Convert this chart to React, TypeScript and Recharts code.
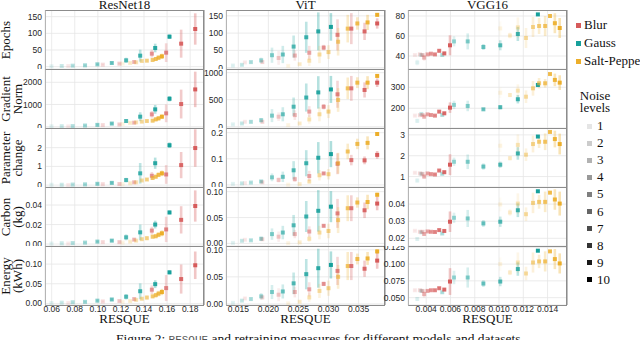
import React from "react";
import {
  ScatterChart,
  Scatter,
  XAxis,
  YAxis,
  CartesianGrid,
  ErrorBar,
} from "recharts";

const NOISE_NAMES = ["Blur", "Gauss", "Salt-Pepper"];
const NOISE_COLORS = ["#d65b5b", "#17a09b", "#ecae2a"];
const NOISE_LEVELS = [1, 2, 3, 4, 5, 6, 7, 8, 9, 10];
const MODEL_NAMES = ["ResNet18", "ViT", "VGG16"];
const METRIC_LABELS = [
  ["Epochs"],
  ["Gradient", "Norm"],
  ["Parameter", "change"],
  ["Carbon", "(kg)"],
  ["Energy", "(kWh)"],
];

// noise: 0 Blur, 1 Gauss, 2 Salt-Pepper
const RESNET_RESQUE = [0.0598, 0.0687, 0.0744, 0.0782, 0.0889, 0.0996, 0.1043, 0.1121, 0.1187, 0.1215, 0.1245, 0.128, 0.1315, 0.1332, 0.1367, 0.1381, 0.1425, 0.1468, 0.1475, 0.1497, 0.1502, 0.1526, 0.1555, 0.1592, 0.1621, 0.1722, 0.1844];
const RESNET_NOISE = [1, 1, 0, 1, 1, 1, 0, 1, 0, 2, 1, 2, 0, 2, 1, 2, 2, 0, 2, 1, 2, 2, 2, 0, 1, 0, 0];
const RESNET_LEVEL = [1, 2, 1, 3, 4, 5, 2, 6, 3, 1, 7, 2, 4, 3, 8, 4, 5, 6, 6, 9, 7, 8, 10, 7, 10, 9, 10];
const RESNET_EPOCHS = [1, 2, 2, 3, 4, 7, 6, 11, 9, 9, 19, 11, 14, 13, 33, 17, 18, 39, 20, 56, 23, 27, 31, 42, 90, 69, 113];
const RESNET_EPOCHS_ERR = [1, 1, 1, 2, 2, 2, 2, 3, 2, 2, 8, 3, 4, 3, 18, 4, 5, 12, 5, 13, 6, 7, 8, 28, 7, 42, 47];
const RESNET_GRAD = [15, 20, 12, 25, 50, 80, 70, 140, 100, 120, 255, 170, 180, 195, 450, 225, 255, 555, 270, 780, 330, 375, 450, 600, 1260, 1020, 1680];
const RESNET_GRAD_ERR = [10, 10, 8, 15, 20, 25, 20, 40, 30, 30, 80, 40, 50, 50, 200, 60, 70, 150, 80, 200, 90, 100, 100, 400, 120, 650, 800];
const RESNET_PARAM = [0.02, 0.02, 0.01, 0.03, 0.04, 0.07, 0.05, 0.12, 0.06, 0.05, 0.27, 0.1, 0.15, 0.15, 0.63, 0.25, 0.3, 0.5, 0.38, 1.17, 0.45, 0.55, 0.63, 0.57, 2.13, 1.07, 1.98];
const RESNET_PARAM_ERR = [0.01, 0.01, 0.01, 0.02, 0.02, 0.03, 0.02, 0.04, 0.03, 0.02, 0.12, 0.04, 0.05, 0.05, 0.55, 0.06, 0.08, 0.2, 0.1, 0.3, 0.1, 0.12, 0.15, 0.5, 0.15, 0.7, 1.0];
const RESNET_CARBON = [0.0005, 0.0008, 0.0005, 0.001, 0.0015, 0.0025, 0.002, 0.0035, 0.002, 0.0015, 0.0069, 0.0025, 0.0045, 0.0035, 0.012, 0.005, 0.006, 0.0138, 0.0075, 0.02, 0.008, 0.0095, 0.011, 0.015, 0.0324, 0.0248, 0.039];
const RESNET_CARBON_ERR = [0.0003, 0.0003, 0.0003, 0.0005, 0.0005, 0.0008, 0.0006, 0.001, 0.0008, 0.0006, 0.003, 0.001, 0.0015, 0.001, 0.008, 0.0015, 0.002, 0.004, 0.002, 0.004, 0.002, 0.0025, 0.003, 0.013, 0.002, 0.014, 0.016];
const RESNET_ENERGY = [0.001, 0.002, 0.001, 0.003, 0.004, 0.007, 0.005, 0.01, 0.006, 0.004, 0.017, 0.006, 0.011, 0.009, 0.031, 0.012, 0.015, 0.035, 0.018, 0.049, 0.021, 0.025, 0.029, 0.039, 0.079, 0.062, 0.097];
const RESNET_ENERGY_ERR = [0.001, 0.001, 0.001, 0.001, 0.002, 0.002, 0.002, 0.003, 0.002, 0.002, 0.007, 0.002, 0.004, 0.003, 0.02, 0.004, 0.005, 0.011, 0.005, 0.01, 0.006, 0.007, 0.008, 0.033, 0.005, 0.037, 0.035];

const VIT_RESQUE = [0.0141, 0.0156, 0.0161, 0.0171, 0.0188, 0.019, 0.0206, 0.0217, 0.0224, 0.0233, 0.0242, 0.0244, 0.0252, 0.0263, 0.0268, 0.0268, 0.0283, 0.0285, 0.0292, 0.03, 0.0304, 0.0315, 0.0316, 0.0332, 0.0338, 0.0348, 0.036, 0.0365, 0.0381, 0.0381];
const VIT_NOISE = [1, 1, 0, 1, 1, 0, 1, 0, 1, 2, 1, 0, 2, 1, 0, 2, 1, 2, 0, 2, 1, 0, 2, 2, 0, 2, 0, 2, 2, 0];
const VIT_LEVEL = [1, 2, 1, 3, 4, 2, 5, 3, 6, 1, 7, 4, 2, 8, 5, 3, 9, 4, 6, 5, 10, 7, 6, 7, 8, 8, 9, 9, 10, 10];
const VIT_EPOCHS = [6, 8, 15, 16, 21, 16, 36, 28, 38, 5, 61, 35, 10, 88, 43, 20, 105, 38, 58, 45, 118, 95, 75, 113, 113, 128, 105, 131, 153, 128];
const VIT_EPOCHS_ERR = [3, 3, 3, 4, 8, 5, 22, 20, 25, 2, 32, 15, 3, 45, 20, 15, 55, 25, 8, 20, 40, 45, 40, 40, 45, 18, 25, 22, 5, 15];
const VIT_GRAD = [43, 60, 90, 90, 120, 90, 205, 185, 230, 30, 370, 215, 60, 540, 280, 135, 635, 230, 370, 280, 690, 600, 495, 710, 710, 815, 680, 815, 940, 815];
const VIT_GRAD_ERR = [15, 20, 25, 30, 40, 30, 120, 80, 130, 10, 170, 90, 20, 260, 100, 80, 300, 130, 50, 120, 250, 250, 220, 200, 230, 100, 140, 120, 30, 80];
const VIT_PARAM = [0.004, 0.006, 0.007, 0.009, 0.013, 0.01, 0.029, 0.019, 0.031, 0.001, 0.056, 0.022, 0.003, 0.083, 0.034, 0.013, 0.104, 0.037, 0.044, 0.041, 0.118, 0.081, 0.083, 0.128, 0.095, 0.157, 0.094, 0.161, 0.195, 0.115];
const VIT_PARAM_ERR = [0.002, 0.003, 0.003, 0.003, 0.005, 0.004, 0.015, 0.01, 0.02, 0.001, 0.035, 0.01, 0.002, 0.05, 0.02, 0.008, 0.06, 0.02, 0.005, 0.02, 0.05, 0.04, 0.04, 0.03, 0.02, 0.02, 0.015, 0.025, 0.005, 0.015];
const VIT_CARBON = [0.001, 0.005, 0.007, 0.006, 0.009, 0.008, 0.018, 0.013, 0.021, 0.0005, 0.035, 0.018, 0.002, 0.052, 0.023, 0.009, 0.063, 0.021, 0.034, 0.024, 0.071, 0.058, 0.045, 0.068, 0.068, 0.079, 0.064, 0.08, 0.094, 0.077];
const VIT_CARBON_ERR = [0.001, 0.002, 0.002, 0.002, 0.004, 0.003, 0.011, 0.01, 0.013, 0.001, 0.02, 0.008, 0.001, 0.03, 0.01, 0.006, 0.04, 0.013, 0.003, 0.014, 0.03, 0.028, 0.025, 0.025, 0.025, 0.01, 0.015, 0.014, 0.004, 0.013];
const VIT_ENERGY = [0.002, 0.006, 0.01, 0.009, 0.014, 0.012, 0.022, 0.017, 0.023, 0.001, 0.038, 0.022, 0.004, 0.055, 0.027, 0.012, 0.066, 0.024, 0.037, 0.029, 0.072, 0.061, 0.05, 0.07, 0.07, 0.083, 0.065, 0.084, 0.097, 0.08];
const VIT_ENERGY_ERR = [0.001, 0.002, 0.003, 0.003, 0.006, 0.004, 0.013, 0.012, 0.013, 0.001, 0.02, 0.01, 0.002, 0.028, 0.013, 0.008, 0.036, 0.013, 0.004, 0.014, 0.025, 0.026, 0.022, 0.026, 0.026, 0.01, 0.015, 0.012, 0.004, 0.015];

const VGG_RESQUE = [0.00307, 0.00326, 0.00348, 0.0036, 0.0037, 0.00383, 0.00411, 0.00439, 0.00472, 0.00507, 0.00532, 0.00549, 0.00596, 0.00629, 0.00742, 0.00871, 0.0101, 0.0101, 0.0109, 0.01155, 0.01155, 0.01222, 0.0128, 0.0132, 0.0133, 0.0138, 0.0142, 0.0146, 0.015];
const VGG_NOISE = [0, 1, 0, 1, 0, 0, 0, 0, 0, 0, 1, 0, 0, 1, 1, 1, 1, 2, 2, 1, 2, 2, 2, 1, 2, 2, 2, 2, 2];
const VGG_LEVEL = [1, 1, 2, 2, 3, 4, 5, 6, 7, 8, 3, 9, 10, 4, 5, 6, 7, 1, 2, 8, 3, 4, 5, 10, 6, 7, 8, 9, 10];
const VGG_EPOCHS = [41, 33.5, 41.6, 41, 41, 38.4, 41.6, 42.3, 41.6, 45.2, 41, 42.6, 50.7, 54.6, 54.6, 49, 50.7, 67.6, 60.5, 62, 68.6, 58, 69, 81.6, 70, 70, 80, 72.8, 68];
const VGG_EPOCHS_ERR = [1, 3, 1, 1, 1, 3, 1, 1, 1, 1.5, 1.5, 1.5, 10, 5, 8, 3, 5, 7, 3, 7, 10, 10, 10, 1, 8, 10, 2, 10, 10];
const VGG_GRAD = [165, 140, 167, 173, 168, 160, 171, 168, 165, 184, 168, 176, 203, 216, 211, 195, 205, 274, 263, 243, 284, 255, 295, 311, 319, 319, 363, 335, 322];
const VGG_GRAD_ERR = [5, 10, 5, 6, 5, 10, 5, 4, 4, 6, 6, 6, 25, 20, 25, 5, 10, 25, 10, 20, 30, 30, 35, 5, 25, 20, 5, 30, 35];
const VGG_PARAM = [1.18, 0.81, 1.15, 1.13, 1.13, 1.0, 1.15, 1.12, 1.1, 1.29, 1.13, 1.21, 1.57, 1.71, 1.71, 1.48, 1.57, 2.48, 1.88, 2.11, 2.52, 2.05, 2.56, 2.92, 2.67, 2.67, 3.14, 2.8, 2.56];
const VGG_PARAM_ERR = [0.05, 0.1, 0.05, 0.05, 0.05, 0.1, 0.05, 0.04, 0.04, 0.05, 0.05, 0.05, 0.5, 0.2, 0.35, 0.15, 0.15, 0.3, 0.1, 0.3, 0.5, 0.3, 0.4, 0.05, 0.3, 0.4, 0.05, 0.4, 0.5];
const VGG_CARBON = [0.0244, 0.0196, 0.0238, 0.0235, 0.0238, 0.0225, 0.024, 0.0238, 0.0237, 0.0248, 0.0228, 0.0243, 0.0297, 0.032, 0.0316, 0.0287, 0.0297, 0.0398, 0.0351, 0.0364, 0.0403, 0.0341, 0.0407, 0.0475, 0.0413, 0.0413, 0.0467, 0.0427, 0.0403];
const VGG_CARBON_ERR = [0.0005, 0.001, 0.0005, 0.0006, 0.0005, 0.001, 0.0005, 0.0005, 0.0005, 0.0007, 0.0006, 0.0006, 0.006, 0.003, 0.005, 0.002, 0.003, 0.004, 0.002, 0.004, 0.006, 0.004, 0.006, 0.0005, 0.004, 0.006, 0.001, 0.006, 0.007];
const VGG_ENERGY = [0.061, 0.048, 0.061, 0.06, 0.06, 0.0553, 0.06, 0.061, 0.061, 0.064, 0.058, 0.062, 0.074, 0.08, 0.08, 0.071, 0.074, 0.1, 0.0875, 0.0926, 0.1024, 0.086, 0.1024, 0.12, 0.104, 0.104, 0.119, 0.1075, 0.101];
const VGG_ENERGY_ERR = [0.002, 0.003, 0.002, 0.002, 0.002, 0.005, 0.002, 0.002, 0.002, 0.002, 0.002, 0.002, 0.02, 0.01, 0.015, 0.005, 0.007, 0.01, 0.004, 0.01, 0.015, 0.01, 0.015, 0.002, 0.01, 0.015, 0.002, 0.015, 0.015];

// tick labels
const RESNET_X_TICKS = [0.06, 0.08, 0.1, 0.12, 0.14, 0.16, 0.18];
const VIT_X_TICKS = [0.015, 0.02, 0.025, 0.03, 0.035];
const VGG_X_TICKS = [0.004, 0.006, 0.008, 0.01, 0.012, 0.014];
const RESNET_Y_TICKS = [[0, 50, 100, 150], [0, 1000, 2000], [0, 1, 2], [0, 0.02, 0.04], [0, 0.05, 0.1]];
const VIT_Y_TICKS = [[0, 50, 100, 150], [0, 500, 1000], [0, 0.1, 0.2], [0, 0.05, 0.1], [0, 0.05, 0.1]];
const VGG_Y_TICKS = [[40, 60, 80], [200, 300], [1, 2, 3], [0.02, 0.03, 0.04], [0.05, 0.075, 0.1, 0.125]];

const models = [
  {
    x: RESNET_RESQUE, noise: RESNET_NOISE, level: RESNET_LEVEL,
    series: [[RESNET_EPOCHS, RESNET_EPOCHS_ERR], [RESNET_GRAD, RESNET_GRAD_ERR], [RESNET_PARAM, RESNET_PARAM_ERR], [RESNET_CARBON, RESNET_CARBON_ERR], [RESNET_ENERGY, RESNET_ENERGY_ERR]],
    xTicks: RESNET_X_TICKS, xDigits: 2, xDomain: [0.0542, 0.192],
    yTicks: RESNET_Y_TICKS, yDigits: [0, 0, 0, 2, 2],
    yDomains: [[-7, 170], [-60, 2600], [-0.1, 3.05], [-0.002, 0.0585], [-0.004, 0.146]],
  },
  {
    x: VIT_RESQUE, noise: VIT_NOISE, level: VIT_LEVEL,
    series: [[VIT_EPOCHS, VIT_EPOCHS_ERR], [VIT_GRAD, VIT_GRAD_ERR], [VIT_PARAM, VIT_PARAM_ERR], [VIT_CARBON, VIT_CARBON_ERR], [VIT_ENERGY, VIT_ENERGY_ERR]],
    xTicks: VIT_X_TICKS, xDigits: 3, xDomain: [0.01295, 0.0394],
    yTicks: VIT_Y_TICKS, yDigits: [0, 0, 1, 2, 2],
    yDomains: [[-4, 167], [-24, 1068], [-0.008, 0.218], [-0.005, 0.109], [-0.002, 0.107]],
  },
  {
    x: VGG_RESQUE, noise: VGG_NOISE, level: VGG_LEVEL,
    series: [[VGG_EPOCHS, VGG_EPOCHS_ERR], [VGG_GRAD, VGG_GRAD_ERR], [VGG_PARAM, VGG_PARAM_ERR], [VGG_CARBON, VGG_CARBON_ERR], [VGG_ENERGY, VGG_ENERGY_ERR]],
    xTicks: VGG_X_TICKS, xDigits: 3, xDomain: [0.0025, 0.0156],
    yTicks: VGG_Y_TICKS, yDigits: [0, 0, 0, 2, 3],
    yDomains: [[27, 86], [106, 387], [0.5, 3.33], [0.0155, 0.05], [0.039, 0.127]],
  },
];

const PLOT_LEFT = [45, 226, 408];
const ROW_TOP = [10, 69, 128, 187, 246];
const PLOT_W = 159;
const PLOT_H = 59;
const AXIS_W = 40;
const RIGHT_W = 6;
const X_AXIS_H = 12;
const MARK = 4;

const SERIF = "'Liberation Serif', 'DejaVu Serif', serif";
const SANS = "'Liberation Sans', Arial, sans-serif";

const alphaFor = (level: number) => 0.12 + (0.88 * (level - 1)) / 9;

const Panel = ({ col, row }: { col: number; row: number }) => {
  const m = models[col];
  const [ys, errs] = m.series[row];
  const bottom = row === 4;
  const points = m.x.map((x, i) => ({
    x,
    y: ys[i],
    err: errs[i],
    noise: m.noise[i],
    level: m.level[i],
  }));
  const tickStyle = { fontSize: 8.5, fill: "#262626", fontFamily: SANS };
  return (
    <div
      style={{
        position: "absolute",
        left: PLOT_LEFT[col] - AXIS_W,
        top: ROW_TOP[row],
      }}
    >
      <ScatterChart
        width={AXIS_W + PLOT_W + RIGHT_W}
        height={PLOT_H + (bottom ? X_AXIS_H : 0)}
        margin={{ top: 0, right: 0, bottom: 0, left: 0 }}
      >
        <CartesianGrid stroke="#e6e6e6" strokeWidth={0.8} />
        <XAxis
          type="number"
          dataKey="x"
          domain={m.xDomain}
          ticks={m.xTicks}
          interval={0}
          allowDataOverflow
          hide={!bottom}
          height={X_AXIS_H}
          axisLine={false}
          tickLine={false}
          tickSize={0}
          tickMargin={1}
          tick={tickStyle}
          tickFormatter={(v: number) => v.toFixed(m.xDigits)}
        />
        <YAxis
          type="number"
          dataKey="y"
          domain={m.yDomains[row]}
          ticks={m.yTicks[row]}
          interval={0}
          allowDataOverflow
          width={AXIS_W}
          axisLine={false}
          tickLine={false}
          tickSize={0}
          tickMargin={3}
          tick={tickStyle}
          tickFormatter={(v: number) => v.toFixed(m.yDigits[row])}
        />
        <YAxis
          yAxisId="r"
          orientation="right"
          type="number"
          domain={[0, 1]}
          ticks={[0.2, 0.4, 0.6, 0.8]}
          width={RIGHT_W}
          axisLine={{ stroke: "#8c8c8c" }}
          tickLine={{ stroke: "#8c8c8c" }}
          tickSize={3}
          tick={false}
        />
        {points.map((p, i) => {
          const a = alphaFor(p.level);
          const color = NOISE_COLORS[p.noise];
          return (
            <Scatter
              key={i}
              data={[p]}
              fill={color}
              isAnimationActive={false}
              shape={(props: any) => (
                <rect
                  x={props.cx - MARK / 2}
                  y={props.cy - MARK / 2}
                  width={MARK}
                  height={MARK}
                  fill={color}
                  fillOpacity={a}
                />
              )}
            >
              <ErrorBar
                dataKey="err"
                direction="y"
                width={0}
                strokeWidth={2.6}
                stroke={color}
                strokeOpacity={a * 0.35}
                isAnimationActive={false}
              />
            </Scatter>
          );
        })}
      </ScatterChart>
      <div
        style={{
          position: "absolute",
          left: AXIS_W,
          top: 0,
          width: PLOT_W,
          height: PLOT_H + 1,
          boxSizing: "border-box",
          border: "1px solid #8c8c8c",
          borderLeft: "1px solid #b5b5b5",
          pointerEvents: "none",
        }}
      />
    </div>
  );
};

export default function App() {
  return (
    <div
      style={{
        position: "absolute",
        left: 0,
        top: 0,
        width: 640,
        height: 340,
        overflow: "hidden",
        background: "#fff",
        fontFamily: SERIF,
        color: "#111",
      }}
    >
      {MODEL_NAMES.map((name, c) => (
        <div
          key={name}
          style={{
            position: "absolute",
            left: PLOT_LEFT[c],
            top: -2,
            width: PLOT_W,
            textAlign: "center",
            fontSize: 13,
            lineHeight: "13px",
          }}
        >
          {name}
        </div>
      ))}
      {METRIC_LABELS.map((lines, r) => (
        <div
          key={r}
          style={{
            position: "absolute",
            left: lines.length > 1 ? 12.2 : 6.2,
            top: ROW_TOP[r] + PLOT_H / 2,
            transform: "translate(-50%, -50%) rotate(-90deg)",
            whiteSpace: "nowrap",
            textAlign: "center",
            fontSize: 13,
            lineHeight: "12px",
          }}
        >
          {lines.map((l) => (
            <div key={l}>{l}</div>
          ))}
        </div>
      ))}
      {models.map((_, c) =>
        [0, 1, 2, 3, 4].map((r) => <Panel key={`${c}-${r}`} col={c} row={r} />)
      )}
      {MODEL_NAMES.map((name, c) => (
        <div
          key={`x-${name}`}
          style={{
            position: "absolute",
            left: PLOT_LEFT[c],
            top: 312,
            width: PLOT_W,
            textAlign: "center",
            fontSize: 13,
            lineHeight: "13px",
          }}
        >
          RESQUE
        </div>
      ))}
      {NOISE_NAMES.map((name, i) => (
        <div
          key={name}
          style={{ position: "absolute", left: 576, top: 25 + i * 18 - 8, height: 16, fontSize: 13, lineHeight: "16px", whiteSpace: "nowrap" }}
        >
          <span
            style={{ display: "inline-block", width: 5, height: 5, background: NOISE_COLORS[i], marginRight: 3, verticalAlign: "middle", position: "relative", top: -1 }}
          />
          {name}
        </div>
      ))}
      <div
        style={{ position: "absolute", left: 575, top: 90, width: 40, textAlign: "center", fontSize: 13, lineHeight: "12px" }}
      >
        <div>Noise</div>
        <div>levels</div>
      </div>
      {NOISE_LEVELS.map((lv, i) => (
        <div
          key={lv}
          style={{ position: "absolute", left: 587, top: 126 + i * 17.1 - 8, height: 16, fontSize: 13, lineHeight: "16px", whiteSpace: "nowrap" }}
        >
          <span
            style={{ display: "inline-block", width: 5, height: 5, background: "#000", opacity: lv / 10, marginRight: 5, verticalAlign: "middle", position: "relative", top: -1 }}
          />
          {lv}
        </div>
      ))}
      <div
        style={{ position: "absolute", left: 0, top: 331, width: 640, textAlign: "center", fontSize: 13.5, whiteSpace: "nowrap" }}
      >
        Figure 2:{" "}
        <span style={{ fontFamily: "'Liberation Mono', 'DejaVu Sans Mono', monospace", fontSize: 11, color: "#555" }}>RESQUE</span>{" "}
        and retraining measures for different models and datasets.
      </div>
    </div>
  );
}
